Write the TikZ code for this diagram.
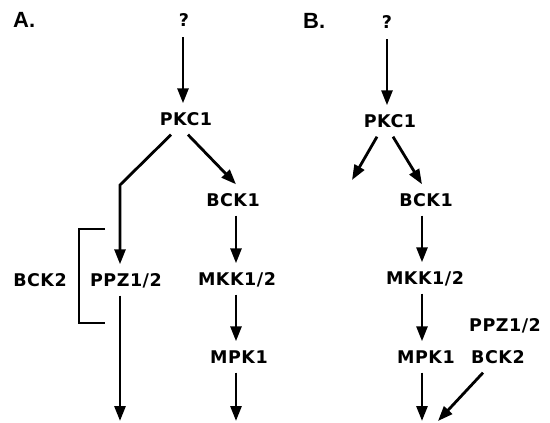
\documentclass[tikz,border=0pt]{standalone}
\usepackage{fontspec}
\usetikzlibrary{arrows.meta}
\newfontfamily\lblfont[LetterSpace=3]{DejaVu Sans}
\newfontfamily\panelfont{Liberation Sans}
\begin{document}
\begin{tikzpicture}[x=1pt,y=-1pt,
  lbl/.style={font=\lblfont\bfseries\fontsize{17.5}{20}\selectfont,
    inner xsep=2pt, inner ysep=9pt, text height=13pt, text depth=0pt},
  panel/.style={font=\panelfont\bfseries\fontsize{22}{24}\selectfont,
    inner sep=0pt, anchor=west},
  link/.style={line width=2.8pt, -{Triangle[length=15pt,width=11pt]}},
  bracket/.style={line width=1.2pt}]
\useasboundingbox (0,0) rectangle (550,423);

% ---------- panel A ----------
\node[panel] (labA) at (13,20) {A.};
\node[lbl] (qA)   at (184,20)  {?};
\node[lbl] (pkcA) at (186,119) {PKC1};
\node[lbl] (bckA) at (233,200) {BCK1};
\node[lbl] (mkkA) at (237,279) {MKK1/2};
\node[lbl] (mpkA) at (239,357) {MPK1};
\node[lbl] (ppzA) at (126,280) {PPZ1/2};
\node[lbl] (bck2A) at (40,280) {BCK2};
\coordinate (bendA) at (120,185);
\coordinate (endA1) at (120,421);
\coordinate (endA2) at (236,421);
\coordinate (topA)  at (183,37);

\draw[link] (topA) -- (topA |- pkcA.north);
\draw[link] ([xshift=2pt]pkcA.south) -- (endA2 |- bckA.north);
\draw[link] ([xshift=-15pt]pkcA.south) -- (bendA) -- (bendA |- ppzA.north);
\draw[link] (bendA |- ppzA.south) -- (endA1);
\draw[link] (endA2 |- bckA.south) -- (endA2 |- mkkA.north);
\draw[link] (endA2 |- mkkA.south) -- (endA2 |- mpkA.north);
\draw[link] (endA2 |- mpkA.south) -- (endA2);
\draw[bracket] (105,229) -- (79,229) -- (79,323) -- (105,323);

% ---------- panel B ----------
\node[panel] (labB) at (303,21) {B.};
\node[lbl] (qB)   at (387,22)  {?};
\node[lbl] (pkcB) at (390,121) {PKC1};
\node[lbl] (bckB) at (426,200) {BCK1};
\node[lbl] (mkkB) at (425,278) {MKK1/2};
\node[lbl] (mpkB) at (426,357) {MPK1};
\node[lbl, anchor=west] (ppzB)  at (467,325) {PPZ1/2};
\node[lbl, anchor=west] (bck2B) at (469,357) {BCK2};
\coordinate (endB0) at (352,180);
\coordinate (endB1) at (422,421);
\coordinate (endB2) at (438,421);
\coordinate (topB)  at (387,39);

\draw[link] (topB) -- (topB |- pkcB.north);
\draw[link] ([xshift=-13pt]pkcB.south) -- (endB0);
\draw[link] ([xshift=3pt]pkcB.south) -- (endB1 |- bckB.north);
\draw[link] (endB1 |- bckB.south) -- (endB1 |- mkkB.north);
\draw[link] (endB1 |- mkkB.south) -- (endB1 |- mpkB.north);
\draw[link] (endB1 |- mpkB.south) -- (endB1);
\draw[link] ([xshift=14pt]bck2B.south west) -- (endB2);
\end{tikzpicture}
\end{document}
